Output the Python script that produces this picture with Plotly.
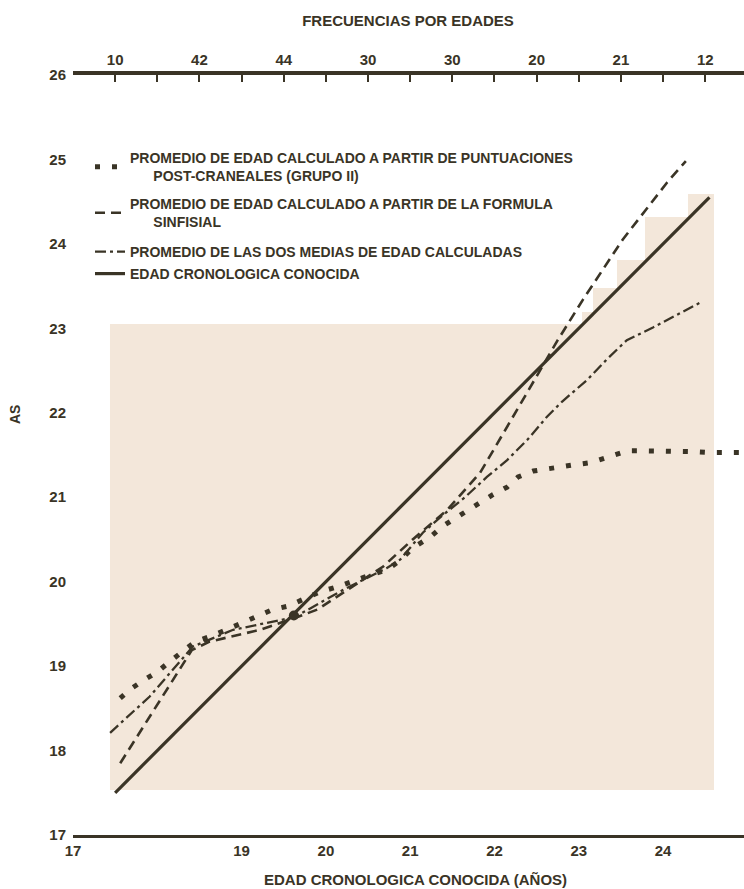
import plotly.graph_objects as go

# ---- data -------------------------------------------------------------
# Edad cronológica conocida (recta de referencia)
known_x = [17.5, 24.55]
known_y = [17.5, 24.55]

# Promedio de edad a partir de puntuaciones post-craneales (grupo II)
postcraneal_x = [17.56, 17.70, 17.85, 18.00, 18.13, 18.29, 18.45, 18.68, 18.86, 19.02,
                 19.18, 19.37, 19.55, 19.93, 20.14, 20.35, 20.50, 20.72, 20.88, 21.03,
                 21.24, 21.39, 21.58, 21.79, 21.98, 22.15, 22.28, 22.46, 22.69, 22.92,
                 23.14, 23.38, 23.58, 23.76, 23.98, 24.19, 24.38, 24.56, 24.93]
postcraneal_y = [18.62, 18.74, 18.84, 18.93, 19.04, 19.16, 19.29, 19.37, 19.45, 19.51,
                 19.58, 19.67, 19.71, 19.88, 19.94, 20.02, 20.07, 20.14, 20.25, 20.40,
                 20.53, 20.66, 20.78, 20.91, 21.03, 21.12, 21.24, 21.31, 21.35, 21.38,
                 21.41, 21.49, 21.55, 21.55, 21.55, 21.54, 21.54, 21.53, 21.53]

# Promedio de edad a partir de la fórmula sinfisial
sinfisial_x = [17.56, 18.41, 18.62, 19.22, 19.63, 19.90, 20.68, 21.03, 21.44, 21.83,
               22.30, 22.75, 23.05, 23.52, 24.05, 24.27]
sinfisial_y = [17.85, 19.19, 19.29, 19.43, 19.57, 19.67, 20.18, 20.50, 20.85, 21.29,
               22.09, 22.86, 23.34, 24.05, 24.73, 24.98]

# Promedio de las dos medias de edad calculadas
media_x = [17.44, 17.91, 18.42, 18.90, 19.63, 20.20, 20.72, 20.88, 21.15, 21.39, 21.65,
           21.91, 22.15, 22.39, 22.62, 22.80, 23.10, 23.33, 23.57, 23.88, 24.24, 24.47]
media_y = [18.21, 18.64, 19.23, 19.43, 19.58, 19.90, 20.16, 20.26, 20.58, 20.79, 21.00,
           21.24, 21.44, 21.68, 21.95, 22.13, 22.39, 22.63, 22.86, 23.01, 23.20, 23.32]

# Punto donde coinciden las cuatro curvas
cruce_x = [19.62]
cruce_y = [19.60]

# Frecuencias por edades (eje superior)
freq_ages = [17.5, 18.5, 19.5, 20.5, 21.5, 22.5, 23.5, 24.5]
freq_counts = [10, 42, 44, 30, 30, 20, 21, 12]

x_ticks = [17, 19, 20, 21, 22, 23, 24]
y_ticks = [17, 18, 19, 20, 21, 22, 23, 24, 25, 26]

# ---- style ------------------------------------------------------------
INK = "#3a3426"
PAPER_TINT = "#f3e7da"
FONT = "Liberation Sans, Arial, sans-serif"
W, H = 744, 889
ML, MR, MT, MB = 73, 0, 75, 54
X_RANGE = [17, 24.96]
Y_RANGE = [17, 26]


def px_to_paper(px, py):
    return ((px - ML) / (W - ML - MR), (H - MB - py) / (H - MT - MB))


fig = go.Figure()

# tinted page area behind the curves (stepped upper-right corner)
outline_px = [(110, 790), (110, 324), (582, 324), (582, 312), (593, 312), (593, 288),
              (617, 288), (617, 260), (645, 260), (645, 217), (688, 217), (688, 194),
              (714, 194), (714, 790)]
pts = [px_to_paper(a, b) for a, b in outline_px]
path = "M " + " L ".join(f"{a:.4f},{b:.4f}" for a, b in pts) + " Z"
fig.add_shape(type="path", path=path, xref="paper", yref="paper",
              fillcolor=PAPER_TINT, line=dict(width=0), layer="below")

nb = "\u00a0"
fig.add_trace(go.Scatter(
    x=postcraneal_x, y=postcraneal_y, mode="lines",
    line=dict(color=INK, width=5, dash="5px,12px"),
    name="PROMEDIO DE EDAD CALCULADO A PARTIR DE PUNTUACIONES<br>" + nb * 6 + "POST-CRANEALES (GRUPO II)",
    legend="legend"))
fig.add_trace(go.Scatter(
    x=sinfisial_x, y=sinfisial_y, mode="lines",
    line=dict(color=INK, width=2.6, dash="10px,6px"),
    name="PROMEDIO DE EDAD CALCULADO A PARTIR DE LA FORMULA<br>" + nb * 6 + "SINFISIAL",
    legend="legend2"))
fig.add_trace(go.Scatter(
    x=media_x, y=media_y, mode="lines",
    line=dict(color=INK, width=2.3, dash="11px,4px,3px,4px"),
    name="PROMEDIO DE LAS DOS MEDIAS DE EDAD CALCULADAS",
    legend="legend3"))
fig.add_trace(go.Scatter(
    x=known_x, y=known_y, mode="lines",
    line=dict(color=INK, width=3.2),
    name="EDAD CRONOLOGICA CONOCIDA",
    legend="legend4"))
fig.add_trace(go.Scatter(
    x=cruce_x, y=cruce_y, mode="markers",
    marker=dict(color=INK, size=10, symbol="circle"),
    showlegend=False, hoverinfo="skip"))

# frequency axis carrier (top)
fig.add_trace(go.Scatter(
    x=freq_ages, y=[26] * len(freq_ages), xaxis="x2", mode="markers",
    marker=dict(opacity=0), showlegend=False, hoverinfo="skip"))

top_vals = [17.5 + 0.5 * i for i in range(15)]
top_text = []
for v in top_vals:
    top_text.append(str(freq_counts[freq_ages.index(v)]) if v in freq_ages else "")

bold15 = dict(family=FONT, color=INK, size=15, weight="bold")
legend_font = dict(size=14, color=INK, family=FONT, weight="bold")


def legend_at(top_px):
    return dict(x=px_to_paper(90, 0)[0], y=px_to_paper(0, top_px)[1],
                xanchor="left", yanchor="top", bgcolor="rgba(0,0,0,0)",
                font=legend_font)


fig.update_layout(
    width=W, height=H,
    margin=dict(l=ML, r=MR, t=MT, b=MB),
    paper_bgcolor="white", plot_bgcolor="rgba(0,0,0,0)",
    font=bold15,
    title=dict(text="FRECUENCIAS POR EDADES", x=408 / W, xanchor="center",
               y=1 - 21 / H, yanchor="middle", font=bold15),
    xaxis=dict(range=X_RANGE, tickvals=x_ticks, ticktext=[str(v) for v in x_ticks],
               showgrid=False, zeroline=False, showline=True, linecolor=INK, linewidth=2.5,
               ticks="", tickfont=bold15),
    xaxis2=dict(range=X_RANGE, overlaying="x", side="top", anchor="y",
                tickvals=top_vals, ticktext=top_text, showgrid=False, zeroline=False,
                showline=True, linecolor=INK, linewidth=4, ticks="inside", ticklen=7,
                tickwidth=2, tickcolor=INK, tickfont=bold15),
    yaxis=dict(range=Y_RANGE, tickvals=y_ticks, ticktext=[str(v) for v in y_ticks],
               showgrid=False, zeroline=False, showline=False, ticks="",
               ticklabelstandoff=6, tickfont=bold15),
    legend=legend_at(142),
    legend2=legend_at(188),
    legend3=legend_at(236),
    legend4=legend_at(258),
    showlegend=True,
)

fig.add_annotation(text="EDAD CRONOLOGICA CONOCIDA (AÑOS)", xref="paper", yref="paper",
                   x=px_to_paper(416, 0)[0], y=px_to_paper(0, 880)[1],
                   showarrow=False, xanchor="center", yanchor="middle", font=bold15)
fig.add_annotation(text="AS", xref="paper", yref="paper", textangle=-90,
                   x=px_to_paper(15, 0)[0], y=px_to_paper(0, 415)[1],
                   showarrow=False, xanchor="center", yanchor="middle",
                   font=dict(size=14, color=INK, family=FONT, weight="bold"))

fig.write_html("out.html")
